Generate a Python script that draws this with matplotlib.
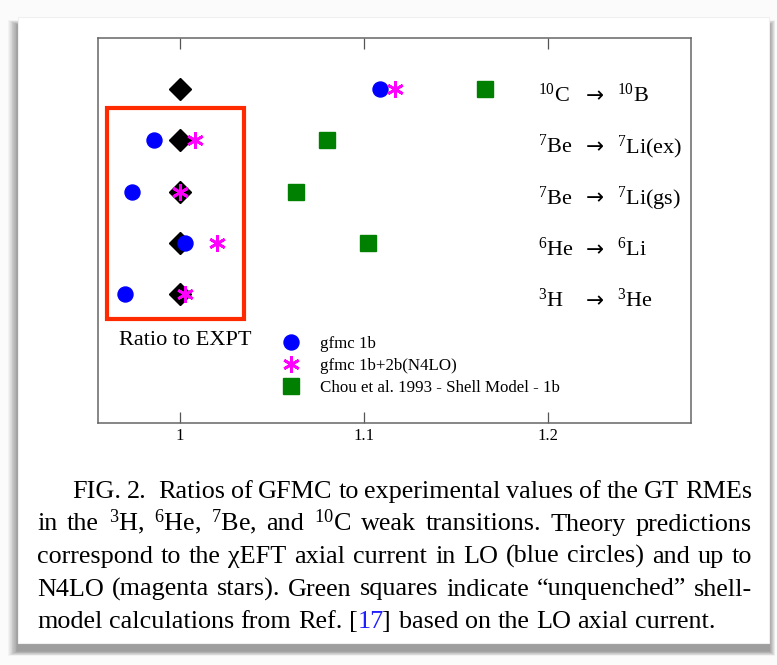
import matplotlib
matplotlib.use("Agg")
import matplotlib.pyplot as plt
from matplotlib.patches import Rectangle
import numpy as np

plt.rcParams['font.family'] = ['Liberation Serif', 'DejaVu Serif']
plt.rcParams['mathtext.fontset'] = 'custom'
plt.rcParams['mathtext.rm'] = 'Liberation Serif'
plt.rcParams['mathtext.it'] = 'Liberation Serif:italic'

# transitions, listed bottom to top
parents = [r"$^{3}$H", r"$^{6}$He", r"$^{7}$Be", r"$^{7}$Be", r"$^{10}$C"]
daughters = [r"$^{3}$He", r"$^{6}$Li", r"$^{7}$Li(gs)", r"$^{7}$Li(ex)", r"$^{10}$B"]

expt = [1.0, 1.0, 1.0, 1.0, 1.0]
gfmc_1b = [0.970, 1.003, 0.974, 0.986, 1.109]
gfmc_n4lo = [1.003, 1.020, 1.000, 1.008, 1.117]
shell_model = [np.nan, 1.102, 1.063, 1.080, 1.166]

series_labels = ["gfmc 1b", "gfmc 1b+2b(N4LO)", "Chou et al. 1993 - Shell Model - 1b"]
xticks = [1.0, 1.1, 1.2]
xtick_labels = ["1", "1.1", "1.2"]

caption = [
  "FIG. 2.  Ratios of GFMC to experimental values of the GT RMEs",
  r"in the $^{3}$H, $^{6}$He, $^{7}$Be, and $^{10}$C weak transitions. Theory predictions",
  "correspond to the χEFT axial current in LO (blue circles) and up to",
  "N4LO (magenta stars). Green squares indicate “unquenched” shell-",
  "model calculations from Ref. [17] based on the LO axial current.",
]

W, H = 777, 665
fig = plt.figure(figsize=(W / 100, H / 100), dpi=100)
fig.patch.set_facecolor("#fbfbfb")

# page background, shadow and card (pixel coordinates)
bg = fig.add_axes([0, 0, 1, 1], zorder=-5)
bg.set_xlim(0, W)
bg.set_ylim(H, 0)
bg.axis("off")
for i in range(12):
  s = 12 - i
  bg.add_patch(Rectangle((18 - s * 0.8, 17 + 8 - s * 0.4), 751 + s * 1.3, 626 + s * 0.8,
                         facecolor="black", edgecolor="none", alpha=0.035))
bg.add_patch(Rectangle((18, 17), 751, 626, facecolor="white", edgecolor="#f0f0f0", lw=0.8))

# main plot
ax = fig.add_axes([97.7 / W, 1 - 422.7 / H, (690.7 - 97.7) / W, (422.7 - 37.7) / H])
rows = np.arange(len(parents))

ax.plot(expt, rows, linestyle="none", marker="D", markersize=11.2, color="black", zorder=3)
ax.plot(gfmc_1b, rows, linestyle="none", marker="o", markersize=10.8, color="#0000ff",
        label=series_labels[0], zorder=4)
ax.plot(gfmc_n4lo, rows, linestyle="none", marker=(6, 2, 0), markersize=12,
        markeredgewidth=2.0, color="#ff00ff", label=series_labels[1], zorder=5)
ax.plot(shell_model, rows, linestyle="none", marker="s", markersize=11, color="#008000",
        label=series_labels[2], zorder=4)

ax.set_xlim(0.9553, 1.2776)
ax.set_ylim(-2.5, 5.0)
ax.set_xticks(xticks)
ax.set_xticklabels(xtick_labels)
ax.set_yticks([])
ax.tick_params(axis="x", direction="in", length=8, width=0.9, top=True, labelsize=12,
               pad=4, color="#555555")
for sp in ax.spines.values():
  sp.set_color("#666666")
  sp.set_linewidth(1.1)

# transition labels
for r, p, d in zip(rows, parents, daughters):
  ax.text(1.1946, r - 0.25, p, fontsize=16, ha="left", va="baseline")
  ax.text(1.2205, r - 0.25, "→", fontsize=15.5, family="DejaVu Sans", ha="left", va="baseline")
  ax.text(1.2375, r - 0.25, d, fontsize=16, ha="left", va="baseline")

# highlight box
ax.add_patch(Rectangle((0.9603, -0.483), 1.0348 - 0.9603, 3.63 + 0.483, fill=False,
                       edgecolor="#ff2a00", linewidth=3, zorder=6))
ax.text(1.0027, -0.893, "Ratio to EXPT", fontsize=16, ha="center", va="center")

ax.legend(loc="upper left", bbox_to_anchor=(283 / W, 1 - 336 / H), bbox_transform=fig.transFigure,
          frameon=False, fontsize=12.2, handlelength=1.0, handletextpad=1.2, borderpad=0,
          borderaxespad=0, labelspacing=0.36, numpoints=1)

# caption, justified
fs = 18.8
renderer = fig.canvas.get_renderer()


def text_width(s):
  t = bg.text(0, 0, s, fontsize=fs)
  w = t.get_window_extent(renderer).width
  t.remove()
  return w


def draw_line(line, x0, x1, y, justify):
  words = line.split(" ")
  widths = [text_width(w) if w else 0 for w in words]
  if justify:
    gap = (x1 - x0 - sum(widths)) / (len(words) - 1)
  else:
    gap = 0.25 * fs * 100 / 72
  x = x0
  for w, wd in zip(words, widths):
    if w.startswith("[17]"):
      # reference number in blue, brackets in black
      bg.text(x, y, "[", fontsize=fs, ha="left", va="baseline")
      bg.text(x + text_width("[17") - text_width("17"), y, "17", fontsize=fs,
              color="#1f1fff", ha="left", va="baseline")
      bg.text(x + text_width(w) - text_width(w[3:]) - 3, y, w[3:], fontsize=fs,
              ha="left", va="baseline")
    elif w:
      bg.text(x, y, w, fontsize=fs, ha="left", va="baseline")
    x += wd + gap


baselines = [498, 530.5, 563, 595.5, 628]
for k, (line, yb) in enumerate(zip(caption, baselines)):
  x0 = 72 if k == 0 else 37
  draw_line(line, x0, 752, yb, k < len(caption) - 1)

fig.savefig("out.png", dpi=100)
